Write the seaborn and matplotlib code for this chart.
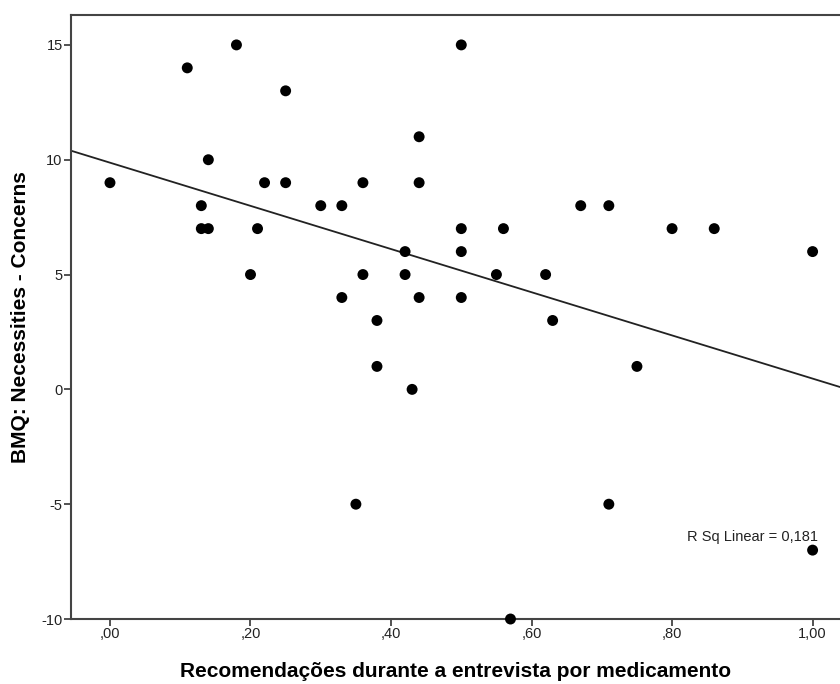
import numpy as np
import pandas as pd
import matplotlib
matplotlib.use("Agg")
import matplotlib.pyplot as plt
import seaborn as sns

# values
recomendacoes = [0.00, 0.11, 0.18, 0.14, 0.13, 0.13, 0.14, 0.25, 0.22, 0.25,
                 0.21, 0.20, 0.50, 0.44, 0.36, 0.44, 0.30, 0.33, 0.67, 0.71,
                 0.50, 0.56, 0.42, 0.50, 0.36, 0.42, 0.55, 0.62, 0.33, 0.44,
                 0.50, 0.38, 0.63, 0.80, 0.86, 1.00, 0.38, 0.43, 0.35, 0.57,
                 0.75, 0.71, 1.00]
bmq_diff = [9, 14, 15, 10, 8, 7, 7, 13, 9, 9,
            7, 5, 15, 11, 9, 9, 8, 8, 8, 8,
            7, 7, 6, 6, 5, 5, 5, 5, 4, 4,
            4, 3, 3, 7, 7, 6, 1, 0, -5, -10,
            1, -5, -7]

x_ticks = [0.0, 0.2, 0.4, 0.6, 0.8, 1.0]
x_ticklabels = [",00", ",20", ",40", ",60", ",80", "1,00"]
y_ticks = [-10, -5, 0, 5, 10, 15]
y_ticklabels = ["-10", "-5", "0", "5", "10", "15"]

r2_label = "R Sq Linear = 0,181"


def main():
    df = pd.DataFrame({"x": recomendacoes, "y": bmq_diff})

    sns.set_style("white")
    plt.rcParams["font.family"] = ["Liberation Sans", "DejaVu Sans"]

    fig = plt.figure(figsize=(8.4, 6.84), dpi=100)
    ax = fig.add_axes([0.0845, 0.095, 0.9155, 0.883])
    ax.set_xlim(-0.0555, 1.039)
    ax.set_ylim(-10, 16.3)

    sns.regplot(data=df, x="x", y="y", ax=ax, ci=None, truncate=False,
                scatter_kws={"s": 62, "color": "black", "edgecolor": "none",
                             "alpha": 1, "clip_on": False, "zorder": 3},
                line_kws={"color": "#222222", "lw": 1.3})

    ax.set_xticks(x_ticks)
    ax.set_xticklabels(x_ticklabels)
    ax.set_yticks(y_ticks)
    ax.set_yticklabels(y_ticklabels)
    ax.tick_params(axis="both", direction="out", length=5, width=1.3,
                   color="#444444", labelsize=10.5, labelcolor="#222222",
                   pad=1, bottom=True, left=True)

    for side in ["left", "bottom", "top"]:
        ax.spines[side].set_color("#444444")
        ax.spines[side].set_linewidth(1.5)
    ax.spines["right"].set_visible(False)

    ax.set_xlabel("Recomendações durante a entrevista por medicamento",
                  fontsize=15, fontweight="bold", color="black", labelpad=15)
    ax.set_ylabel("BMQ: Necessities - Concerns", fontsize=15,
                  fontweight="bold", color="black", labelpad=8)

    ax.text(1.007, -6.45, r2_label, ha="right", va="center", fontsize=10.5,
            color="#222222")

    fig.savefig("out.png", dpi=100)
    plt.close(fig)


if __name__ == "__main__":
    main()
